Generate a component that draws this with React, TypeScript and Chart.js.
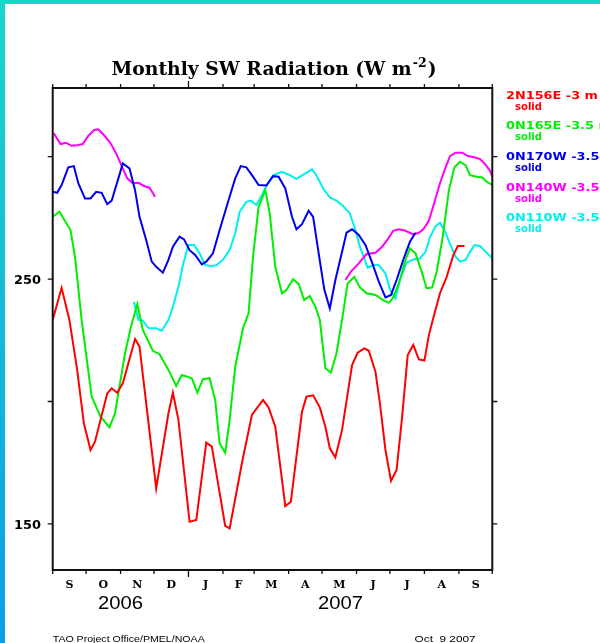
import React, { useEffect, useRef } from 'react';
import { Chart, registerables } from 'chart.js';
Chart.register(...registerables);

// x values are days since 1 Sep 2006
const monthStartDays = [0, 30, 61, 91, 122, 153, 181, 212, 242, 273, 303, 334, 365, 395];
const monthLabels = ['S', 'O', 'N', 'D', 'J', 'F', 'M', 'A', 'M', 'J', 'J', 'A', 'S'];
const majorTickDay = 122;
const yearLabels = ['2006', '2007'];
const yearBounds = [0, 122, 395];
const yTickValues = [150, 200, 250, 300];
const yTickLabels = ['150', '', '250', ''];

const titleMain = 'Monthly SW Radiation (W m';
const titleSup = '-2';
const titleEnd = ')';
const footerLeft = 'TAO Project Office/PMEL/NOAA';
const footerRight = 'Oct  9 2007';

const seriesNames = ['2N156E -3 m', '0N165E -3.5 m', '0N170W -3.5 m', '0N140W -3.5 m', '0N110W -3.5 m'];
const seriesStyle = 'solid';
const seriesColors = ['#ff0000', '#00ee00', '#0000ee', '#ff00ff', '#00f0f0'];

const redDays = [0, 8, 15, 22, 28, 34, 38, 49, 53, 58, 63, 74, 78, 93, 104, 108, 113, 123, 129, 138, 143, 155, 159, 170, 179, 189, 194, 200, 209, 214, 224, 228, 234, 240, 245, 249, 254, 260, 269, 274, 280, 284, 290, 294, 299, 304, 309, 314, 319, 324, 329, 334, 338, 342, 348, 354, 360, 364, 370];
const redValues = [233.3, 246.4, 233.3, 212.9, 191.1, 180.2, 183.6, 203.3, 205.4, 203.6, 207.4, 225.5, 222.4, 164.6, 195.2, 203.6, 192.4, 150.9, 151.6, 183.2, 181.6, 149.2, 148.2, 174.8, 194.5, 200.6, 197.6, 189.7, 157.3, 159.1, 195.8, 202.0, 202.5, 197.6, 189.7, 180.9, 177.2, 188.4, 214.9, 219.9, 221.7, 220.7, 212.2, 199.3, 180.2, 167.6, 172.0, 193.8, 219.0, 223.1, 217.2, 216.7, 227.1, 234.1, 244.2, 250.9, 259.8, 263.5, 263.5];

const greenDays = [0, 6, 16, 20, 26, 35, 43, 51, 56, 65, 70, 76, 81, 90, 96, 104, 111, 116, 125, 130, 135, 141, 146, 150, 155, 159, 164, 171, 176, 180, 185, 191, 195, 200, 206, 210, 216, 221, 226, 231, 236, 240, 245, 250, 255, 260, 265, 271, 276, 282, 290, 297, 302, 306, 311, 317, 321, 326, 332, 336, 341, 345, 350, 356, 361, 366, 371, 375, 381, 386, 390, 395];
const greenValues = [275.4, 277.5, 270.0, 259.1, 233.3, 202.0, 193.8, 189.5, 195.2, 219.7, 229.9, 239.8, 229.2, 220.7, 219.3, 212.9, 206.3, 210.8, 209.5, 203.6, 209.1, 209.5, 200.6, 182.9, 179.1, 192.4, 214.2, 229.9, 236.0, 259.1, 279.5, 286.3, 276.8, 255.0, 244.2, 245.5, 249.9, 248.0, 241.4, 243.1, 238.7, 233.3, 213.6, 211.8, 219.7, 233.3, 248.2, 250.9, 246.6, 244.2, 243.5, 241.4, 240.3, 242.5, 248.2, 257.8, 262.5, 260.5, 252.3, 246.2, 246.6, 253.0, 265.9, 286.3, 295.6, 297.9, 296.5, 292.4, 291.8, 291.5, 289.7, 288.4];

const blueDays = [0, 4, 8, 14, 19, 23, 29, 34, 39, 44, 49, 53, 59, 63, 69, 74, 78, 84, 89, 93, 99, 104, 108, 114, 118, 123, 128, 134, 138, 144, 150, 158, 164, 169, 174, 180, 185, 192, 198, 203, 209, 215, 219, 224, 230, 234, 239, 244, 249, 254, 260, 264, 269, 275, 281, 287, 293, 299, 304, 309, 315, 321, 326];
const blueValues = [285.6, 285.2, 288.4, 295.6, 296.1, 289.1, 282.9, 282.9, 285.6, 285.2, 280.6, 282.0, 291.1, 297.2, 295.2, 286.3, 275.4, 265.9, 257.1, 255.0, 252.6, 257.8, 263.2, 267.3, 266.2, 261.8, 259.8, 256.0, 257.1, 260.5, 270.0, 282.2, 291.1, 296.1, 295.6, 291.8, 288.4, 288.2, 292.0, 291.8, 287.0, 275.4, 270.3, 272.4, 277.9, 275.4, 260.5, 245.8, 238.0, 249.6, 261.1, 268.9, 270.3, 268.0, 263.9, 256.7, 248.9, 242.5, 243.5, 249.6, 257.8, 265.2, 268.9];

const magentaDaysA = [1, 7, 12, 17, 22, 27, 32, 37, 41, 46, 52, 57, 62, 67, 72, 77, 82, 87, 92];
const magentaValuesA = [309.5, 305.1, 305.6, 304.4, 304.6, 305.1, 308.4, 310.8, 311.1, 308.8, 305.4, 301.3, 296.1, 291.1, 289.1, 289.3, 288.0, 287.3, 283.6];
const magentaDaysB = [263, 268, 275, 282, 290, 296, 301, 306, 311, 317, 324, 329, 333, 338, 342, 348, 353, 357, 362, 368, 373, 379, 384, 388, 393, 395];
const magentaValuesB = [249.6, 253.0, 256.4, 260.2, 260.7, 263.2, 266.2, 269.7, 270.3, 269.7, 268.2, 268.9, 270.3, 273.8, 279.8, 289.1, 295.6, 300.2, 301.6, 301.6, 300.2, 299.7, 299.0, 297.2, 294.2, 291.8];

const cyanDays = [73, 77, 81, 86, 93, 98, 104, 108, 113, 117, 122, 127, 132, 137, 142, 147, 153, 159, 164, 168, 174, 178, 183, 188, 192, 198, 206, 213, 219, 227, 233, 237, 243, 249, 255, 261, 267, 272, 276, 280, 283, 288, 293, 299, 303, 308, 312, 318, 324, 330, 335, 339, 344, 348, 353, 357, 362, 366, 371, 375, 379, 384, 388, 393, 395];
const cyanValues = [240.7, 233.3, 233.0, 230.0, 229.9, 228.9, 233.3, 238.7, 246.9, 255.7, 263.9, 263.9, 260.5, 255.7, 255.3, 255.6, 257.8, 261.8, 268.7, 277.5, 281.5, 282.0, 280.2, 284.3, 288.0, 292.4, 293.8, 292.4, 290.9, 293.1, 294.8, 292.4, 287.0, 283.3, 282.0, 279.8, 276.8, 270.0, 263.2, 258.4, 254.6, 255.7, 255.7, 252.3, 245.8, 242.1, 249.6, 256.7, 258.0, 258.4, 261.1, 267.0, 271.6, 273.0, 268.9, 264.3, 259.1, 257.1, 257.8, 261.1, 263.9, 263.5, 261.6, 259.4, 258.4];

const pts = (xs: number[], ys: number[]) => {
  const n = Math.min(xs.length, ys.length);
  const out: { x: number; y: number }[] = [];
  for (let i = 0; i < n; i++) out.push({ x: xs[i], y: ys[i] });
  return out;
};

function drawText(ctx: CanvasRenderingContext2D, text: string, x: number, y: number, font: string, color: string, align: 'left' | 'center' | 'right', width?: number, sxFixed?: number) {
  ctx.save();
  ctx.font = font;
  ctx.fillStyle = color;
  ctx.textBaseline = 'alphabetic';
  ctx.textAlign = 'left';
  const w = ctx.measureText(text).width;
  const sx = sxFixed ?? (width ? width / w : 1);
  const tw = w * sx;
  const left = align === 'left' ? x : align === 'center' ? x - tw / 2 : x - tw;
  ctx.translate(left, y);
  ctx.scale(sx, 1);
  ctx.fillText(text, 0, 0);
  ctx.restore();
}

const decorPlugin = {
  id: 'decor',
  beforeDraw(chart: any) {
    const ctx: CanvasRenderingContext2D = chart.ctx;
    ctx.save();
    ctx.fillStyle = '#ffffff';
    ctx.fillRect(0, 0, chart.width, chart.height);
    const g = ctx.createLinearGradient(0, 0, 0, chart.height);
    g.addColorStop(0, '#1ad6c8');
    g.addColorStop(1, '#0e9ee6');
    ctx.fillStyle = g;
    ctx.fillRect(0, 0, 5, chart.height);
    ctx.fillStyle = '#1ad6c8';
    ctx.fillRect(0, 0, chart.width, 4);
    ctx.restore();
  },
  afterDraw(chart: any) {
    const ctx: CanvasRenderingContext2D = chart.ctx;
    const xs = chart.scales.x;
    const ys = chart.scales.y;
    const { left, right, top, bottom } = chart.chartArea;
    ctx.save();
    ctx.strokeStyle = '#111';
    ctx.lineWidth = 2;
    ctx.strokeRect(left, top, right - left, bottom - top);
    ctx.lineWidth = 1.3;
    ctx.beginPath();
    monthStartDays.forEach((d) => {
      const px = xs.getPixelForValue(d);
      const len = d === majorTickDay ? 7 : 4;
      ctx.moveTo(px, bottom);
      ctx.lineTo(px, bottom + len);
      ctx.moveTo(px, top);
      ctx.lineTo(px, top - len);
    });
    yTickValues.forEach((v) => {
      const py = ys.getPixelForValue(v);
      ctx.moveTo(left, py);
      ctx.lineTo(left - 5, py);
      ctx.moveTo(right, py);
      ctx.lineTo(right + 5, py);
    });
    ctx.stroke();
    ctx.restore();

    // y labels
    yTickValues.forEach((v, i) => {
      if (!yTickLabels[i]) return;
      const py = ys.getPixelForValue(v);
      drawText(ctx, yTickLabels[i], 41, py + 5, 'bold 13px "DejaVu Sans"', '#000', 'right', 27);
    });
    // month labels
    monthLabels.forEach((m, i) => {
      const cx = (xs.getPixelForValue(monthStartDays[i]) + xs.getPixelForValue(monthStartDays[i + 1])) / 2;
      drawText(ctx, m, cx, 587.5, 'bold 11px "DejaVu Serif"', '#000', 'center');
    });
    // year labels
    yearLabels.forEach((yl, i) => {
      const cx = (xs.getPixelForValue(yearBounds[i]) + xs.getPixelForValue(yearBounds[i + 1])) / 2;
      drawText(ctx, yl, cx, 608.5, '18px "Liberation Sans"', '#000', 'center', 45);
    });
    // title
    ctx.save();
    ctx.font = 'bold 18px "DejaVu Serif"';
    const w1 = ctx.measureText(titleMain).width;
    const w3 = ctx.measureText(titleEnd).width;
    ctx.font = 'bold 12px "DejaVu Serif"';
    const w2 = ctx.measureText(titleSup).width;
    ctx.restore();
    const sx = 325 / (w1 + w2 + w3 + 2);
    const tx = 111.5;
    drawText(ctx, titleMain, tx, 74.5, 'bold 18px "DejaVu Serif"', '#000', 'left', undefined, sx);
    drawText(ctx, titleSup, tx + (w1 + 1) * sx, 66.5, 'bold 12px "DejaVu Serif"', '#000', 'left', undefined, sx);
    drawText(ctx, titleEnd, tx + (w1 + w2 + 2) * sx, 74.5, 'bold 18px "DejaVu Serif"', '#000', 'left', undefined, sx);
    // legend
    ctx.save();
    ctx.font = 'bold 10px "DejaVu Sans"';
    const lsx = 92 / ctx.measureText(seriesNames[0]).width;
    ctx.restore();
    seriesNames.forEach((nm, i) => {
      const by = 98.5 + 30.7 * i;
      drawText(ctx, nm, 506, by, 'bold 10px "DejaVu Sans"', seriesColors[i], 'left', undefined, lsx);
      drawText(ctx, seriesStyle, 515, by + 11, 'bold 10px "DejaVu Sans"', seriesColors[i], 'left', 27);
    });
    // footer
    drawText(ctx, footerLeft, 52.7, 641.5, '9px "Liberation Sans"', '#000', 'left', 152);
    drawText(ctx, footerRight, 414.6, 641.5, '9px "Liberation Sans"', '#000', 'left', 61);
  },
};

export default function App() {
  const ref = useRef<HTMLCanvasElement | null>(null);
  useEffect(() => {
    if (!ref.current) return;
    const ds = (data: { x: number; y: number }[], color: string) => ({
      data,
      borderColor: color,
      backgroundColor: color,
      borderWidth: 2,
      pointRadius: 0,
      tension: 0,
      fill: false,
    });
    const chart = new Chart(ref.current, {
      type: 'line',
      data: {
        datasets: [
          ds(pts(redDays, redValues), seriesColors[0]),
          ds(pts(greenDays, greenValues), seriesColors[1]),
          ds(pts(blueDays, blueValues), seriesColors[2]),
          ds(pts(magentaDaysA, magentaValuesA), seriesColors[3]),
          ds(pts(magentaDaysB, magentaValuesB), seriesColors[3]),
          ds(pts(cyanDays, cyanValues), seriesColors[4]),
        ],
      },
      options: {
        animation: false,
        responsive: false,
        devicePixelRatio: 1,
        events: [],
        layout: { padding: { left: 52.7, top: 88, right: 107.7, bottom: 73 } },
        scales: {
          x: { type: 'linear', min: 0, max: 395, display: false },
          y: { type: 'linear', min: 131.2, max: 328, display: false },
        },
        plugins: { legend: { display: false }, tooltip: { enabled: false } },
      },
      plugins: [decorPlugin],
    });
    return () => chart.destroy();
  }, []);
  return (
    <div style={{ position: 'absolute', left: 0, top: 0, width: 600, height: 643 }}>
      <canvas ref={ref} width={600} height={643} style={{ display: 'block' }} />
    </div>
  );
}
